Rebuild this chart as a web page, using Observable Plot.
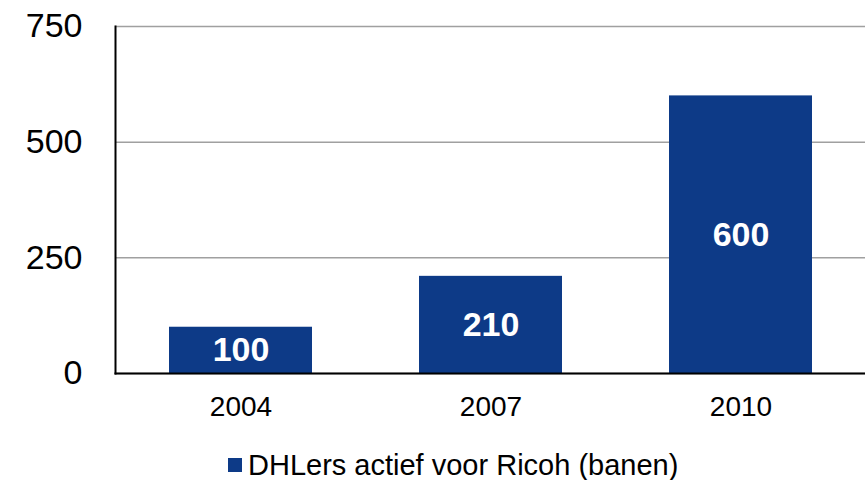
<!DOCTYPE html>
<html>
<head>
<meta charset="utf-8">
<script src="https://cdn.jsdelivr.net/npm/d3@7"></script>
<script src="https://cdn.jsdelivr.net/npm/@observablehq/plot@0.6"></script>
<style>
  html, body { margin: 0; padding: 0; background: white; }
  #wrap { position: relative; width: 865px; height: 480px; font-family: "Liberation Sans", Arial, sans-serif; }
  #legend { position: absolute; left: 228px; top: 445px; height: 40px; display: flex; align-items: center; font-size: 29px; color: black; white-space: nowrap; }
  #legend .sw { width: 14px; height: 14px; margin-right: 6px; }
</style>
</head>
<body>
<div id="wrap"></div>
<script>
const years = ["2004", "2007", "2010"];
const values = [100, 210, 600];
const yTicks = [0, 250, 500, 750];
const seriesName = "DHLers actief voor Ricoh (banen)";
const barColor = "#0d3a87";

const data = years.map((y, i) => ({year: y, value: values[i]}));

const chart = Plot.plot({
  width: 865,
  height: 440,
  marginLeft: 115,
  marginRight: 0,
  marginTop: 26,
  marginBottom: 67,
  style: {fontFamily: "'Liberation Sans', Arial, sans-serif", background: "white", color: "black"},
  x: {domain: years, paddingInner: 0.43, paddingOuter: 0.215, label: null},
  y: {domain: [0, 750], label: null},
  marks: [
    Plot.gridY(yTicks, {stroke: "#a0a0a0", strokeOpacity: 1, strokeWidth: 1.5}),
    Plot.barY(data, {x: "year", y: "value", fill: barColor}),
    Plot.text(data, {x: "year", y: d => d.value / 2, text: d => String(d.value), fill: "white", fontWeight: "bold", fontSize: 34}),
    Plot.axisY(yTicks, {tickSize: 0, tickPadding: 33, fontSize: 34, fill: "black", label: null}),
    Plot.axisX({tickSize: 0, tickPadding: 23, fontSize: 28, fill: "black", label: null}),
    Plot.frame({anchor: "left", stroke: "black", strokeWidth: 2}),
    Plot.frame({anchor: "bottom", stroke: "black", strokeWidth: 2})
  ]
});
document.getElementById("wrap").appendChild(chart);

const legend = document.createElement("div");
legend.id = "legend";
const sw = document.createElement("div");
sw.className = "sw";
sw.style.background = barColor;
const lab = document.createElement("span");
lab.textContent = seriesName;
legend.appendChild(sw);
legend.appendChild(lab);
document.getElementById("wrap").appendChild(legend);
</script>
</body>
</html>
